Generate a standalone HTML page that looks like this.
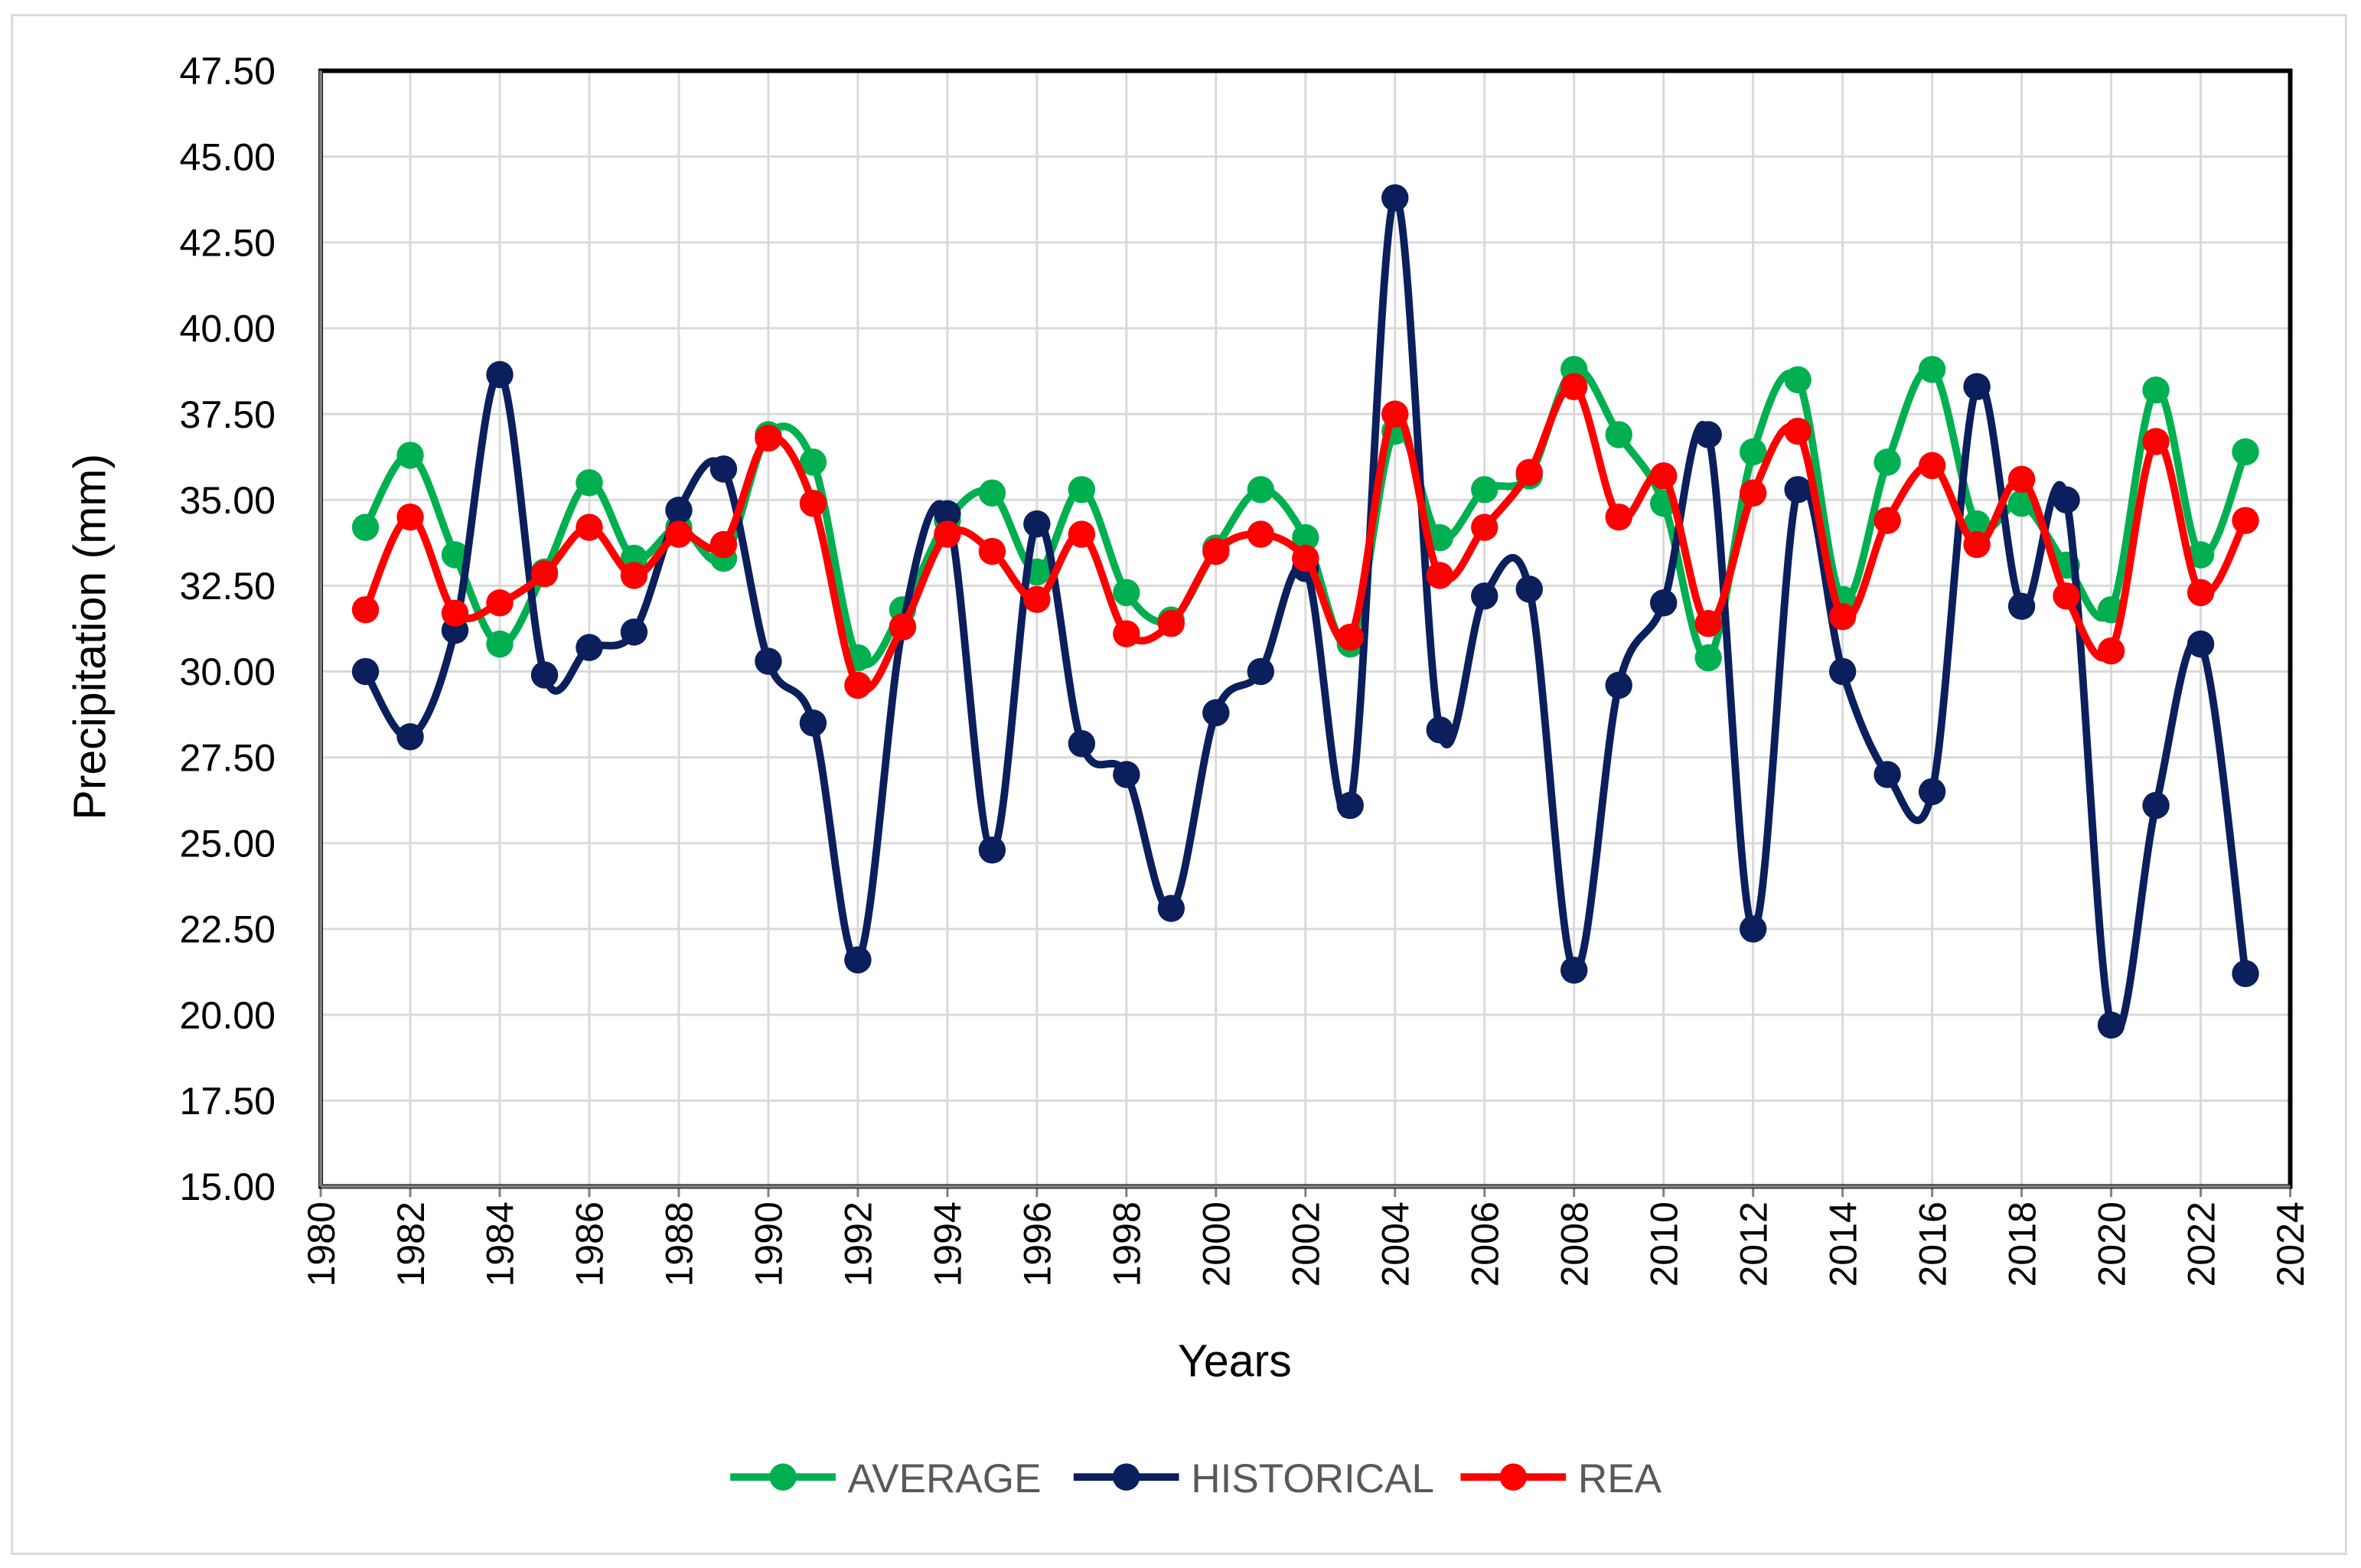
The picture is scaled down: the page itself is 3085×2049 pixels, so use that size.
<!DOCTYPE html>
<html><head><meta charset="utf-8"><style>
html,body{margin:0;padding:0;background:#fff;}
svg{display:block;font-family:"Liberation Sans",sans-serif;}
</style></head><body>
<svg id="chart" width="3085" height="2049" viewBox="0 0 1568 1041.4" xmlns="http://www.w3.org/2000/svg">
<rect x="8" y="10" width="1550" height="1022" fill="#fff" stroke="#d9d9d9" stroke-width="1.5"/>
<g id="grid"></g>
<g id="axes"></g>
<g id="series"></g>
<text transform="translate(70,423) rotate(-90)" text-anchor="middle" font-size="30" fill="#000">Precipitation (mm)</text>
<text x="820" y="914" text-anchor="middle" font-size="30" fill="#000">Years</text>
<g id="legend"></g>
</svg>
<script>
const years = [];
for (let y = 1981; y <= 2023; y++) years.push(y);
const average = [34.2,36.3,33.4,30.8,32.9,35.5,33.3,34.2,33.3,36.9,36.1,30.4,31.8,34.4,35.2,32.9,35.3,32.3,31.5,33.6,35.3,33.9,30.8,37.0,33.9,35.3,35.7,38.8,36.9,34.9,30.4,36.4,38.5,32.1,36.1,38.8,34.3,34.9,33.1,31.8,38.2,33.4,36.4];
const historical = [30.0,28.1,31.2,38.65,29.9,30.7,31.15,34.7,35.9,30.3,28.5,21.6,31.3,34.6,24.8,34.3,27.9,27.0,23.1,28.8,30.0,33.0,26.1,43.8,28.3,32.2,32.4,21.3,29.6,32.0,36.9,22.5,35.3,30.0,27.0,26.5,38.3,31.9,35.0,19.7,26.1,30.8,21.2];
const rea = [31.8,34.5,31.7,32.0,32.85,34.2,32.8,34.0,33.7,36.8,34.9,29.6,31.3,34.0,33.5,32.1,34.0,31.1,31.4,33.5,34.0,33.3,31.0,37.5,32.8,34.2,35.8,38.3,34.5,35.7,31.4,35.2,37.0,31.6,34.4,36.0,33.7,35.6,32.2,30.6,36.7,32.3,34.4];
const yTicks = [15,17.5,20,22.5,25,27.5,30,32.5,35,37.5,40,42.5,45,47.5];
const xTicks = [];
for (let y = 1980; y <= 2024; y += 2) xTicks.push(y);

const NS = "http://www.w3.org/2000/svg";
const L = 213, R = 1521, T = 47, B = 788;
const xS = v => L + (v - 1980) / 44 * (R - L);
const yS = v => B - (v - 15) / 32.5 * (B - T);
function mk(tag, attrs, parent) {
  const e = document.createElementNS(NS, tag);
  for (const k in attrs) e.setAttribute(k, attrs[k]);
  parent.appendChild(e);
  return e;
}
const grid = document.getElementById('grid');
const axes = document.getElementById('axes');
yTicks.forEach(v => {
  const ln = mk('line', {x1: L, x2: R, y1: yS(v), y2: yS(v), stroke: '#d9d9d9', 'stroke-width': 1.5}, grid);
  
  
  const t = mk('text', {x: 183, y: yS(v) + 9, 'text-anchor': 'end', 'font-size': 25.5, fill: '#000'}, axes);
  t.textContent = v.toFixed(2);
  
  
});
xTicks.forEach(v => {
  const ln = mk('line', {x1: xS(v), x2: xS(v), y1: T, y2: B, stroke: '#d9d9d9', 'stroke-width': 1.5}, grid);
  
  
  const tk = mk('line', {x1: xS(v), x2: xS(v), y1: B, y2: B + 7, stroke: '#808080', 'stroke-width': 1.5}, axes);
  
  
  const t = mk('text', {transform: `translate(${xS(v) + 9},${B + 10}) rotate(-90)`, 'text-anchor': 'end', 'font-size': 25.5, fill: '#000'}, axes);
  t.textContent = v;
  
  
});
const frame = mk('rect', {x: L, y: T, width: R - L, height: B - T, fill: 'none', stroke: '#000', 'stroke-width': 3}, axes);


const la = mk('line', {x1: L, x2: L, y1: T, y2: B, stroke: '#808080', 'stroke-width': 2}, axes);


const ba = mk('line', {x1: L, x2: R, y1: B, y2: B, stroke: '#808080', 'stroke-width': 2}, axes);



function smoothPath(pts) {
  let d = `M${pts[0][0]},${pts[0][1]}`;
  for (let i = 0; i < pts.length - 1; i++) {
    const p0 = pts[i - 1] || pts[i], p1 = pts[i], p2 = pts[i + 1], p3 = pts[i + 2] || p2;
    const k = 1 / 6;
    const c1 = [p1[0] + (p2[0] - p0[0]) * k, p1[1] + (p2[1] - p0[1]) * k];
    const c2 = [p2[0] - (p3[0] - p1[0]) * k, p2[1] - (p3[1] - p1[1]) * k];
    d += ` C${c1[0]},${c1[1]} ${c2[0]},${c2[1]} ${p2[0]},${p2[1]}`;
  }
  return d;
}
const seriesG = document.getElementById('series');
const seriesList = [
  {name: 'average', vals: average, color: '#00B050'},
  {name: 'historical', vals: historical, color: '#0A1F5C'},
  {name: 'rea', vals: rea, color: '#FF0000'}
];
seriesList.forEach(s => {
  const g = mk('g', {}, seriesG);
  
  
  const pts = s.vals.map((v, i) => [xS(years[i]), yS(v)]);
  const p = mk('path', {d: smoothPath(pts), fill: 'none', stroke: s.color, 'stroke-width': 5}, g);
  
  
  pts.forEach(pt => {
    const c = mk('circle', {cx: pt[0], cy: pt[1], r: 9, fill: s.color}, g);
    
    
  });
});
const legend = document.getElementById('legend');
const legendItems = [
  {label: 'AVERAGE', color: '#00B050', x: 485},
  {label: 'HISTORICAL', color: '#0A1F5C', x: 713},
  {label: 'REA', color: '#FF0000', x: 970}
];
legendItems.forEach(it => {
  const g = mk('g', {}, legend);
  
  
  mk('line', {x1: it.x, x2: it.x + 70, y1: 981, y2: 981, stroke: it.color, 'stroke-width': 5}, g);
  mk('circle', {cx: it.x + 35, cy: 981, r: 9, fill: it.color}, g);
  const t = mk('text', {x: it.x + 78, y: 991, 'font-size': 27, fill: '#595959'}, g);
  t.textContent = it.label;
});
</script>
</body></html>
